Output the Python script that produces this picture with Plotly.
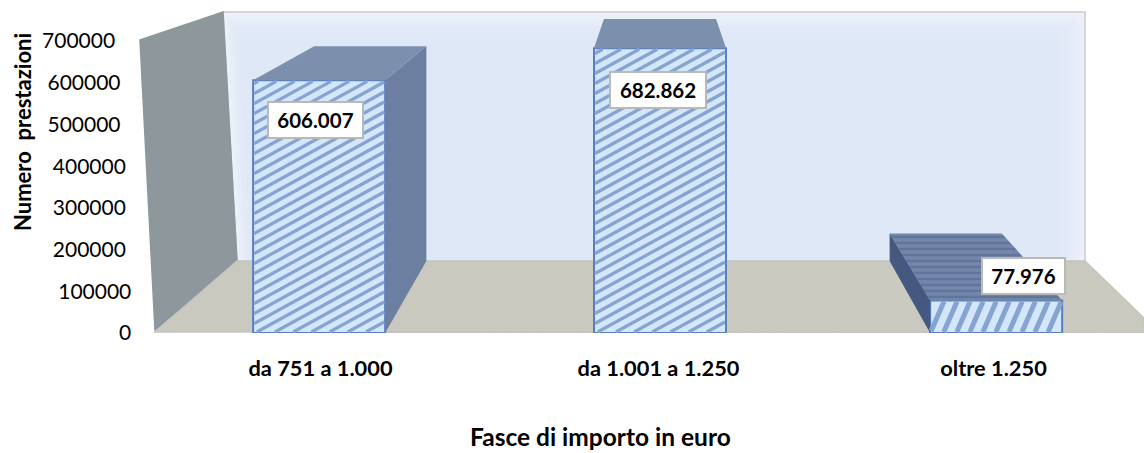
import plotly.graph_objects as go

categories = ["da 751 a 1.000", "da 1.001 a 1.250", "oltre 1.250"]
values = [606007, 682862, 77976]
value_labels = ["606.007", "682.862", "77.976"]
y_ticks = [0, 100000, 200000, 300000, 400000, 500000, 600000, 700000]

W, H = 1144, 453
BASE_PX, UNIT_PX = 333, 0.000417
CX_PX, STEP_PX = 660, 337.5
X = lambda p: (p - CX_PX) / STEP_PX + 1
Y = lambda p: (BASE_PX - p) / UNIT_PX
BAR_W = 132 / STEP_PX
bar_x = [-0.01, 1, 2 - 0.004]
label_x = [X(320.5), X(658.5), X(993.5)]
box_x = [X(315), X(658), X(1023)]
box_dy = [-40 / UNIT_PX, -42 / UNIT_PX, 24 / UNIT_PX]
tick_pad = [0, 0, 1, 1, 1, 2, 2, 3]
stripe = [(0.55, 10), (0.55, 10), (2.3, 30)]   # slope, vertical period (px)
SHRINK, BACK_LIFT = 0.85, 172600

def back(x, v):
    return 1 + (x - 1) * SHRINK, v * SHRINK + BACK_LIFT

def path(pts):
    return "M" + "L".join(f"{X(a)},{Y(b)}" for a, b in pts) + "Z"

fig = go.Figure()
walls = [
    ([(223, 12), (1085, 12), (1085, 261), (237, 261)], "#eef3fb", "#c9c9c9"),
    ([(226, 16), (1082, 16), (1082, 261), (240, 261)], "#eaf0fa", "#eaf0fa"),
    ([(229, 21), (1076, 21), (1076, 261), (243, 261)], "#e6edf9", "#e6edf9"),
    ([(233, 27), (1068, 27), (1068, 261), (247, 261)], "#e2eaf8", "#e2eaf8"),
    ([(238, 34), (1058, 34), (1058, 261), (252, 261)], "#dfe8f7", "#dfe8f7"),
    ([(140, 40), (223, 12), (237, 261), (155, 330)], "#8d979c", "#8d979c"),
    ([(155, 332), (237, 261), (1085, 261), (1144, 318), (1144, 333)], "#c9c9c0", "#c4c4c0"),
]
shapes = [dict(type="path", path=path(p), fillcolor=f, line=dict(color=c, width=1.5),
               xref="x", yref="y", layer="below") for p, f, c in walls]

fig.add_trace(go.Bar(x=bar_x, y=values, width=BAR_W, hoverinfo="skip",
                     marker=dict(color="#d3e6fa", line=dict(color="#5a7dbf", width=2))))

for i, (x, v) in enumerate(zip(bar_x, values)):
    l, r = x - BAR_W / 2, x + BAR_W / 2
    bl, bt = back(l, v)
    br, _ = back(r, v)
    bl0, b0 = back(l, 0)
    br0, _ = back(r, 0)
    faces = []
    top_kw = dict(fillcolor="#7c8fac")
    if i == 2:
        top_kw = dict(fillcolor="#6a7fa3", fillpattern=dict(shape="-", bgcolor="#7487a8", fgcolor="#4b6391", size=6, solidity=0.4))
    faces.append(([l, r, br, bl], [v, v, bt, bt], top_kw))
    if br > r:
        faces.append(([r, br, br0, r], [v, bt, b0, 0], dict(fillcolor="#6d7fa0")))
    if bl < l:
        faces.append(([l, bl, bl0, l], [v, bt, b0, 0], dict(fillcolor="#45587f")))
    for fx, fy, kw in faces:
        fig.add_trace(go.Scatter(x=fx, y=fy, fill="toself", mode="lines", line=dict(width=0),
                                 hoverinfo="skip", **kw))
    # hatch of the front face, clipped to the bar
    m, period = stripe[i]
    w_px = BAR_W * STEP_PX - 2
    h_px = v * UNIT_PX - 2
    hx, hy = [], []
    c = -m * w_px
    while c < h_px:
        x0 = max(0, -c / m)
        x1 = min(w_px, (h_px - c) / m)
        if x1 > x0:
            for px in (x0, x1):
                hx.append(l + (px + 1) / STEP_PX)
                hy.append((c + m * px + 1) / UNIT_PX)
            hx.append(None)
            hy.append(None)
        c += period
    fig.add_trace(go.Scatter(x=hx, y=hy, mode="lines",
                             line=dict(color="#86a4d0", width=3.2 if i < 2 else 5),
                             hoverinfo="skip"))

ann = [dict(x=bx, y=v + dy, xref="x", yref="y", text=f"<b>{t}</b>", showarrow=False,
            bgcolor="white", bordercolor="#b9b9b9", borderwidth=2, width=w_, height=32,
            font=dict(size=20.5, color="black", family="Lato"))
       for bx, v, dy, t, w_ in zip(box_x, values, box_dy, value_labels, [91, 92, 79])]
ann.append(dict(x=600 / W, y=(333 - 436) / 333, xref="paper", yref="paper",
                xanchor="center", yanchor="middle",
                text="<b>Fasce di importo in euro</b>", showarrow=False,
                font=dict(size=24.5, color="black", family="Lato")))
ann.append(dict(x=23 / W, y=(333 - 132) / 333, xref="paper", yref="paper", textangle=-90,
                xanchor="center", yanchor="middle",
                text="<b>Numero  prestazioni</b>", showarrow=False,
                font=dict(size=22, color="black", family="Lato")))

fig.update_layout(
    width=W, height=H, margin=dict(l=0, r=0, t=0, b=H - BASE_PX), showlegend=False,
    paper_bgcolor="white", plot_bgcolor="white", shapes=shapes, annotations=ann,
    font=dict(family="Lato", color="black"),
    xaxis=dict(range=[X(0), X(W)], tickmode="array", tickvals=label_x,
               ticktext=[f"<b>{c}</b>" for c in categories],
               showgrid=False, zeroline=False, showline=False, ticks="outside", ticklen=16,
               tickcolor="rgba(0,0,0,0)", tickfont=dict(size=21.8, color="black", family="Lato")),
    yaxis=dict(range=[0, Y(0)], anchor="free", position=138.5 / W, side="left", tickmode="array",
               tickvals=y_ticks, ticktext=[f"{t}" + "\u00a0" * p for t, p in zip(y_ticks, tick_pad)],
               showgrid=False, zeroline=False, showline=False, ticks="outside", ticklen=3,
               tickcolor="rgba(0,0,0,0)", tickfont=dict(size=21, color="black", family="Lato")),
)
fig.write_html("out.html", config={"displayModeBar": False},
               post_script="document.body.style.margin='0';")
